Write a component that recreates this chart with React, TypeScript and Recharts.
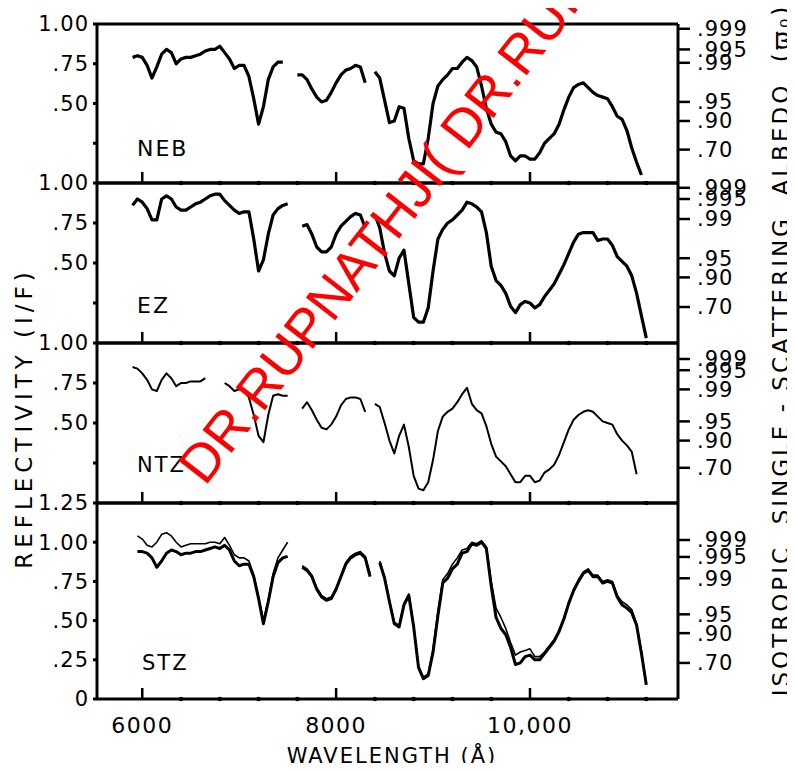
import React from 'react';
import { LineChart, Line, XAxis, YAxis, ReferenceLine } from 'recharts';

// wavelength grid (Å); the three measured segments are separated by gaps
const wavelength = [
  5900, 5950, 6000, 6050, 6100, 6150, 6200, 6250, 6300, 6350, 6400, 6450, 6500, 6550, 6600, 6650, 6700,
  6750, 6800, 6850, 6900, 6950, 7000, 7050, 7100, 7150, 7200, 7250, 7300, 7350, 7400, 7450, 7500,
  7600, 7650, 7700, 7750, 7800, 7850, 7900, 7950, 8000, 8050, 8100, 8150, 8200, 8250, 8300, 8350,
  8400, 8450, 8500, 8550, 8600, 8650, 8700, 8750, 8800, 8850, 8900, 8950, 9000, 9050, 9100, 9150,
  9200, 9250, 9300, 9350, 9400, 9450, 9500, 9550, 9600, 9650, 9700, 9750, 9800, 9850, 9900, 9950,
  10000, 10050, 10100, 10150, 10200, 10250, 10300, 10350, 10400, 10450, 10500, 10550, 10600, 10650,
  10700, 10750, 10800, 10850, 10900, 10950, 11000, 11050, 11100, 11150, 11200,
];

const nebRefl = [
  0.79, 0.8, 0.79, 0.74, 0.66, 0.73, 0.81, 0.84, 0.82, 0.75, 0.78, 0.79, 0.79, 0.8, 0.81, 0.83, 0.84,
  0.84, 0.86, 0.82, 0.78, 0.72, 0.74, 0.74, 0.67, 0.53, 0.37, 0.48, 0.65, 0.73, 0.76, 0.76, null,
  0.68, 0.68, 0.65, 0.59, 0.54, 0.51, 0.52, 0.57, 0.63, 0.68, 0.71, 0.72, 0.74, 0.73, 0.63, null,
  0.7, 0.66, 0.52, 0.38, 0.39, 0.48, 0.47, 0.28, 0.14, 0.12, 0.12, 0.28, 0.5, 0.61, 0.65, 0.68,
  0.72, 0.72, 0.76, 0.79, 0.77, 0.73, 0.61, 0.47, 0.37, 0.32, 0.31, 0.26, 0.17, 0.14, 0.17, 0.17,
  0.15, 0.15, 0.19, 0.25, 0.28, 0.31, 0.37, 0.46, 0.54, 0.6, 0.62, 0.63, 0.6, 0.57,
  0.55, 0.54, 0.53, 0.48, 0.42, 0.4, 0.33, 0.22, 0.13, 0.05, null,
];

const ezRefl = [
  0.86, 0.9, 0.88, 0.84, 0.77, 0.77, 0.9, 0.92, 0.9, 0.85, 0.83, 0.83, 0.85, 0.87, 0.88, 0.9, 0.92,
  0.93, 0.93, 0.89, 0.86, 0.83, 0.81, 0.82, 0.82, 0.65, 0.45, 0.52, 0.68, 0.8, 0.84, 0.86, 0.87,
  null, 0.73, 0.74, 0.68, 0.6, 0.57, 0.57, 0.6, 0.68, 0.73, 0.76, 0.79, 0.81, 0.8, 0.72, null,
  0.8, 0.72, 0.56, 0.45, 0.42, 0.53, 0.58, 0.37, 0.16, 0.13, 0.13, 0.22, 0.45, 0.65, 0.71, 0.75,
  0.77, 0.8, 0.83, 0.88, 0.87, 0.85, 0.82, 0.69, 0.48, 0.39, 0.36, 0.31, 0.23, 0.19, 0.24, 0.26,
  0.25, 0.22, 0.24, 0.29, 0.33, 0.37, 0.43, 0.49, 0.56, 0.63, 0.68, 0.69, 0.69, 0.69,
  0.64, 0.65, 0.65, 0.61, 0.54, 0.51, 0.48, 0.42, 0.31, 0.17, 0.03,
];

const ntzRefl = [
  0.85, 0.84, 0.81, 0.77, 0.71, 0.7, 0.77, 0.81, 0.78, 0.73, 0.75, 0.75, 0.76, 0.76, 0.76, 0.78, null,
  null, null, 0.75, 0.73, 0.7, 0.71, 0.7, 0.66, 0.55, 0.42, 0.38, 0.55, 0.67, 0.68, 0.67, 0.67,
  null, 0.59, 0.63, 0.58, 0.52, 0.47, 0.46, 0.49, 0.54, 0.61, 0.65, 0.66, 0.66, 0.65, 0.57, null,
  0.62, 0.6, 0.5, 0.39, 0.31, 0.42, 0.49, 0.35, 0.17, 0.09, 0.08, 0.13, 0.27, 0.45, 0.54, 0.57,
  0.59, 0.63, 0.68, 0.72, 0.62, 0.58, 0.56, 0.48, 0.37, 0.29, 0.26, 0.23, 0.18, 0.13, 0.13, 0.17,
  0.17, 0.13, 0.14, 0.19, 0.21, 0.24, 0.3, 0.38, 0.46, 0.52, 0.55, 0.57, 0.58, 0.57,
  0.54, 0.51, 0.5, 0.49, 0.43, 0.39, 0.36, 0.32, 0.18, null, null,
];

const stzReflA = [
  null, 0.94, 0.94, 0.93, 0.9, 0.84, 0.88, 0.93, 0.95, 0.94, 0.92, 0.93, 0.93, 0.94, 0.94, 0.95, 0.96,
  0.97, 0.96, 0.98, 0.95, 0.88, 0.85, 0.86, 0.86, 0.78, 0.64, 0.48, 0.62, 0.78, 0.87, 0.9, 0.91,
  null, 0.84, 0.82, 0.78, 0.7, 0.65, 0.63, 0.64, 0.7, 0.78, 0.86, 0.9, 0.92, 0.93, 0.9, 0.78,
  null, 0.87, 0.77, 0.62, 0.48, 0.46, 0.6, 0.66, 0.46, 0.2, 0.13, 0.15, 0.3, 0.53, 0.74, 0.77,
  0.83, 0.86, 0.93, 0.94, 0.99, 0.98, 1.0, 0.96, 0.72, 0.52, 0.45, 0.41, 0.33, 0.22, 0.23, 0.27,
  0.28, 0.25, 0.25, 0.29, 0.33, 0.37, 0.43, 0.51, 0.61, 0.69, 0.75, 0.8, 0.82, 0.78,
  0.78, 0.74, 0.75, 0.74, 0.65, 0.6, 0.58, 0.55, 0.47, 0.29, 0.09,
];

const stzReflB = [
  null, 1.04, 1.02, 0.98, 0.97, 1.0, 1.05, 1.06, 1.04, 1.0, 0.97, 0.98, 0.99, 0.99, 0.99, 0.99, 1.0,
  1.0, 0.99, 1.03, 0.98, 0.92, 0.9, 0.9, 0.88, 0.79, 0.65, 0.5, 0.63, 0.8, 0.9, 0.95, 1.0,
  null, 0.85, 0.83, 0.79, 0.71, 0.66, 0.64, 0.65, 0.71, 0.79, 0.87, 0.91, 0.93, 0.94, 0.91, 0.8,
  null, 0.88, 0.78, 0.63, 0.49, 0.47, 0.61, 0.67, 0.47, 0.21, 0.14, 0.16, 0.32, 0.56, 0.76, 0.8,
  0.86, 0.9, 0.95, 0.96, 1.0, 0.99, 1.01, 0.97, 0.75, 0.58, 0.52, 0.45, 0.36, 0.28, 0.3, 0.31,
  0.32, 0.27, 0.27, 0.3, 0.34, 0.38, 0.44, 0.52, 0.62, 0.7, 0.76, 0.81, 0.83, 0.79,
  0.79, 0.75, 0.76, 0.75, 0.66, 0.62, 0.6, 0.57, 0.48, 0.3, 0.1,
];

const xTicks = [6000, 6400, 6800, 7200, 7600, 8000, 8400, 8800, 9200, 9600, 10000, 10400, 10800, 11200];
const majorTicks = [6000, 8000, 10000];
const majorLabels = ['6000', '8000', '10,000'];

// right-hand albedo scale: label and the reflectivity each one sits at, per panel
const albedoLabels = ['.999', '.995', '.99', '.95', '.90', '.70'];
const nebAlbedoPos = [0.97, 0.84, 0.756, 0.51, 0.39, 0.21];
const ezAlbedoPos = [0.97, 0.9, 0.775, 0.53, 0.41, 0.225];
const ntzAlbedoPos = [0.9, 0.83, 0.71, 0.51, 0.39, 0.22];
const stzAlbedoPos = [1.014, 0.906, 0.77, 0.54, 0.42, 0.23];

const reflTicks = [0.25, 0.5, 0.75, 1.0];
const reflLabels = ['', '.50', '.75', '1.00'];
const stzTicks = [0, 0.25, 0.5, 0.75, 1.0, 1.25];
const stzLabels = ['0', '.25', '.50', '.75', '1.00', '1.25'];

const rows = wavelength.map((w, i) => ({
  w,
  neb: nebRefl[i],
  ez: ezRefl[i],
  ntz: ntzRefl[i],
  stzA: stzReflA[i],
  stzB: stzReflB[i],
}));

const FONT = '"DejaVu Sans", sans-serif';
const TOP = 20;

const panels = [
  { id: 'neb', top: 16, h: 159, yMax: 1, ticks: reflTicks, labels: reflLabels, albedo: nebAlbedoPos, lines: [{ key: 'neb', w: 3.2 }] },
  { id: 'ez', top: 175, h: 160, yMax: 1, ticks: reflTicks, labels: reflLabels, albedo: ezAlbedoPos, lines: [{ key: 'ez', w: 3.2 }] },
  { id: 'ntz', top: 335, h: 160, yMax: 1, ticks: reflTicks, labels: reflLabels, albedo: ntzAlbedoPos, lines: [{ key: 'ntz', w: 2 }] },
  {
    id: 'stz', top: 495, h: 196, yMax: 1.25, ticks: stzTicks, labels: stzLabels, albedo: stzAlbedoPos,
    lines: [{ key: 'stzB', w: 1.6 }, { key: 'stzA', w: 3 }],
  },
];

const WaveTick = (props: any) => {
  const { x, y, payload, showLabel } = props;
  const i = majorTicks.indexOf(payload.value);
  return (
    <g>
      {i >= 0 ? (
        <line x1={x} x2={x} y1={y} y2={y - 11} stroke="#000" strokeWidth={2.5} />
      ) : (
        <circle cx={x} cy={y} r={2.3} fill="#000" />
      )}
      {showLabel && i >= 0 && (
        <text x={x} y={y + 34} textAnchor="middle" fontSize={22} fontFamily={FONT} letterSpacing={1.5} fill="#000">
          {majorLabels[i]}
        </text>
      )}
    </g>
  );
};

const Panel = ({ p, last }: { p: (typeof panels)[number]; last: boolean }) => (
  <div style={{ position: 'absolute', left: 0, top: p.top - TOP }}>
    <LineChart width={779} height={p.h + TOP + 40} data={rows} margin={{ top: TOP, right: 59, bottom: 0, left: 9 }}>
      <XAxis
        dataKey="w"
        type="number"
        domain={[5533, 11527]}
        ticks={xTicks}
        interval={0}
        height={40}
        tickSize={0}
        tickMargin={0}
        tickLine={false}
        axisLine={{ stroke: '#000', strokeWidth: 3 }}
        tick={(t: any) => <WaveTick {...t} showLabel={last} />}
        allowDataOverflow
      />
      <YAxis
        yAxisId="left"
        domain={[0, p.yMax]}
        ticks={p.ticks}
        interval={0}
        width={80}
        tickSize={4}
        tickMargin={4}
        allowDataOverflow
        axisLine={{ stroke: '#000', strokeWidth: 3 }}
        tickLine={{ stroke: '#000', strokeWidth: 3 }}
        tick={{ fontSize: 21, fill: '#000', fontFamily: FONT, letterSpacing: 1 }}
        tickFormatter={(v: number) => p.labels[p.ticks.indexOf(v)]}
      />
      <YAxis
        yAxisId="right"
        orientation="right"
        domain={[0, p.yMax]}
        ticks={p.albedo}
        interval={0}
        width={50}
        tickSize={12}
        tickMargin={7}
        allowDataOverflow
        axisLine={{ stroke: '#000', strokeWidth: 3 }}
        tickLine={{ stroke: '#000', strokeWidth: 2.5 }}
        tick={{ fontSize: 21, fill: '#000', fontFamily: FONT, letterSpacing: 1 }}
        tickFormatter={(v: number) => albedoLabels[p.albedo.indexOf(v)]}
      />
      <ReferenceLine yAxisId="left" y={p.yMax} stroke="#000" strokeWidth={3} />
      {/* invisible twin of the first series, so the right-hand scale is bound to a series */}
      <Line
        yAxisId="right"
        dataKey={p.lines[0].key}
        stroke="none"
        strokeWidth={0}
        dot={false}
        activeDot={false}
        legendType="none"
        isAnimationActive={false}
      />
      {p.lines.map((l) => (
        <Line
          key={l.key}
          yAxisId="left"
          type="linear"
          dataKey={l.key}
          stroke="#000"
          strokeWidth={l.w}
          strokeLinejoin="round"
          dot={false}
          activeDot={false}
          connectNulls={false}
          isAnimationActive={false}
        />
      ))}
    </LineChart>
  </div>
);

export default function App() {
  return (
    <div style={{ position: 'relative', width: 779, height: 755, fontFamily: FONT }}>
      {panels.map((p, i) => (
        <Panel key={p.id} p={p} last={i === panels.length - 1} />
      ))}
      <svg
        width={795}
        height={771}
        style={{ position: 'absolute', left: -8, top: -8, pointerEvents: 'none', overflow: 'hidden' }}
      >
        <g fontFamily={FONT} fill="#000">
          <text x={137} y={156} fontSize={22} letterSpacing={2}>NEB</text>
          <text x={137} y={313} fontSize={22} letterSpacing={2}>EZ</text>
          <text x={137} y={472} fontSize={21} letterSpacing={2}>NTZ</text>
          <text x={142} y={670} fontSize={21} letterSpacing={2}>STZ</text>
          <text
            x={24}
            y={418}
            fontSize={23}
            letterSpacing={5}
            textAnchor="middle"
            dominantBaseline="central"
            transform="rotate(-90 24 418)"
          >
            REFLECTIVITY (I/F)
          </text>
          <text
            x={781}
            y={350}
            fontSize={23}
            letterSpacing={3}
            textAnchor="middle"
            dominantBaseline="central"
            transform="rotate(-90 781 350)"
            style={{ whiteSpace: 'pre' }}
          >
            {'ISOTROPIC  SINGLE - SCATTERING  ALBEDO  (ϖ₀)'}
          </text>
          <text x={392} y={763} fontSize={21} letterSpacing={2} textAnchor="middle">
            WAVELENGTH (Å)
          </text>
        </g>
        <text
          x={205}
          y={487}
          fontSize={54}
          fontFamily='"Liberation Sans", Arial, sans-serif'
          fill="#ff0000"
          transform="rotate(-52 205 487)"
          style={{ whiteSpace: 'pre' }}
        >
          {'DR.RUPNATHJI( DR.RUPAK NATH )'}
        </text>
      </svg>
    </div>
  );
}
